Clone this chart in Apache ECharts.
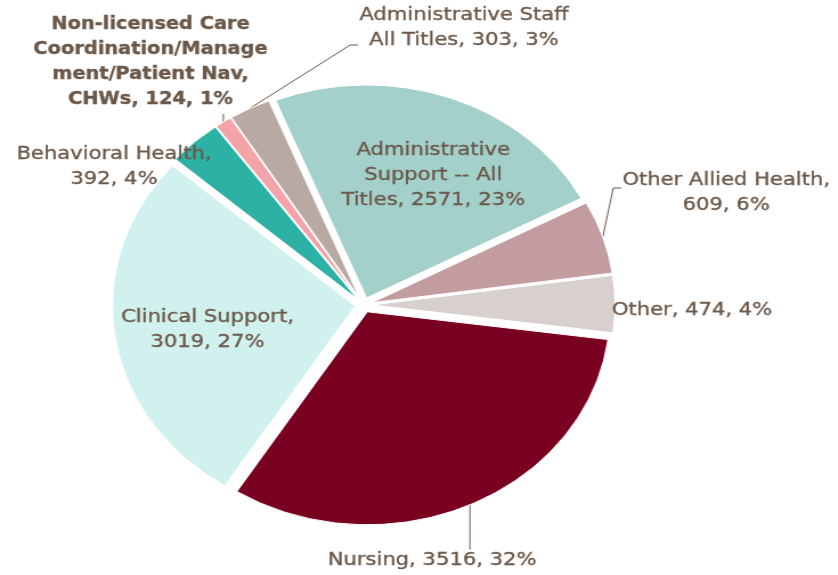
<!DOCTYPE html>
<html>
<head>
<meta charset="utf-8">
<script src="https://cdn.jsdelivr.net/npm/echarts@6/dist/echarts.min.js"></script>
<style>
  html, body { margin: 0; padding: 0; background: #fff; overflow: hidden; }
  /* the original picture is stretched sideways, so the pie is an ellipse */
  #main { width: 735px; height: 575px; transform: scaleX(1.14); transform-origin: 0 0; }
</style>
</head>
<body>
<div id="main"></div>
<script>
// categories, clockwise from the top
const categories = [
  "Administrative Support -- All Titles",
  "Other Allied Health",
  "Other",
  "Nursing",
  "Clinical Support",
  "Behavioral Health",
  "Non-licensed Care Coordination/Management/Patient Nav, CHWs",
  "Administrative Staff All Titles"
];
const values = [2571, 609, 474, 3516, 3019, 392, 124, 303];
// label text as wrapped in the chart
const labelNames = [
  "Administrative\nSupport -- All\nTitles",
  "Other Allied Health,\n",
  "Other",
  "Nursing",
  "Clinical Support,\n",
  "Behavioral Health,\n",
  "Non-licensed Care\nCoordination/Manage\nment/Patient Nav,\nCHWs",
  "Administrative Staff\nAll Titles"
];
const colors = ["#a3d0cb", "#c39ca0", "#d8d0cd", "#7a0021", "#d0f1ee", "#2eb1a5", "#f4a3a9", "#b8aaa3"];

// where each label sits and how its leader line ends (style only)
const labelPos = [
  [380, 175], [637, 193], [607, 310], [379, 560],
  [182, 330], [100, 167], [132, 62], [407, 28]
];
const lineEnd = [null, { side: "left", dy: -5 }, null, { side: "top" }, null, null, { side: "bottom" }, { side: "left", dy: 17 }];

const cx = 319, cy = 305, radius = 213, startAngle = 112, explode = 7.5;
const textColor = "#6b5849";
const fontFamily = "DejaVu Sans";
const fontSize = 18.5, boldSize = 17;

function labelText(i, v, pct) {
  let n = labelNames[i];
  return n + (n.endsWith("\n") ? "" : ", ") + v + ", " + pct + "%";
}

let myChart = echarts.init(document.getElementById("main"));

let total = values.reduce((a, b) => a + b, 0);
// percent like the chart shows it (whole numbers, summing to 100)
let pcts = values.map((v, i) => echarts.number.getPercentWithPrecision(values, i, 0));

// text widths, for where the leader lines meet the labels
let ctx = document.createElement("canvas").getContext("2d");
let textWidths = values.map((v, i) => {
  ctx.font = (i === 6 ? "bold " + boldSize : fontSize) + "px '" + fontFamily + "'";
  return Math.max(...labelText(i, v, pcts[i]).split("\n").map(s => ctx.measureText(s).width));
});

let centers = [];
let mids = [];
let acc = 0;
values.forEach(v => {
  let mid = startAngle - ((acc + v / 2) / total) * 360;
  acc += v;
  let rad = (mid * Math.PI) / 180;
  mids.push(rad);
  centers.push([cx + explode * Math.cos(rad), cy - explode * Math.sin(rad)]);
});

// one series per slice so every slice can be pulled out along its own middle angle
let series = values.map((v, k) => {
  return {
    type: "pie",
    center: centers[k],
    radius: radius,
    startAngle: startAngle,
    clockwise: true,
    percentPrecision: 0,
    silent: true,
    data: values.map((w, i) => {
      let own = i === k;
      return {
        value: w,
        name: categories[i],
        itemStyle: own
          ? { color: colors[i], borderColor: "#ffffff", borderWidth: 1 }
          : { color: "transparent", borderWidth: 0 },
        label: { show: own, fontWeight: i === 6 ? "bold" : "normal", fontSize: i === 6 ? boldSize : fontSize },
        labelLine: { show: own && lineEnd[i] !== null }
      };
    }),
    label: {
      color: textColor,
      textBorderColor: textColor,
      textBorderWidth: 0.35,
      fontFamily: fontFamily,
      lineHeight: 25,
      width: 260,
      align: "center",
      formatter: function(p) {
        return labelText(p.dataIndex, p.value, p.percent);
      }
    },
    labelLine: {
      lineStyle: { color: textColor, width: 1 }
    },
    labelLayout: function(params) {
      let i = params.dataIndex;
      let pos = labelPos[i];
      let res = { x: pos[0], y: pos[1], align: "center", verticalAlign: "middle" };
      let end = lineEnd[i];
      if (end) {
        let c = centers[i];
        let p0 = [c[0] + radius * Math.cos(mids[i]), c[1] - radius * Math.sin(mids[i])];
        let h = params.labelRect.height;
        let left = pos[0] - textWidths[i] / 2;
        if (end.side === "left") {
          res.labelLinePoints = [p0, [left - 8, pos[1] + end.dy], [left - 1, pos[1] + end.dy]];
        } else if (end.side === "top") {
          let y = pos[1] - h / 2 + 2;
          res.labelLinePoints = [p0, [p0[0], (p0[1] + y) / 2], [p0[0], y]];
        } else {
          let y = pos[1] + h / 2 + 2;
          res.labelLinePoints = [p0, [p0[0], (p0[1] + y) / 2], [p0[0], y]];
        }
      }
      return res;
    },
    emphasis: { disabled: true }
  };
});

myChart.setOption({ animation: false, series: series });
</script>
</body>
</html>
